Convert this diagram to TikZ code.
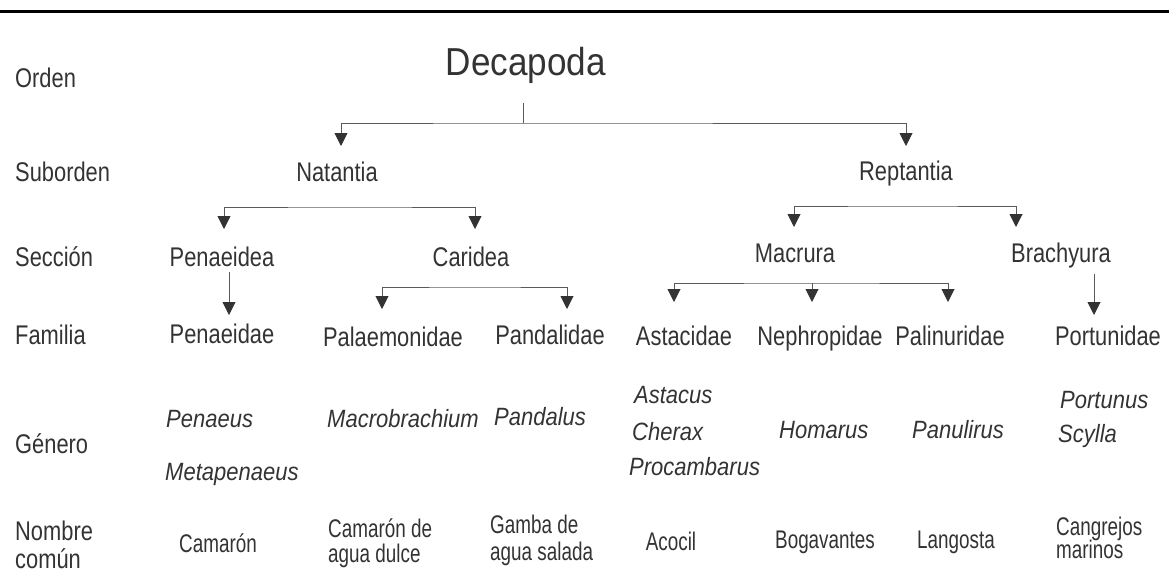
\documentclass[tikz,border=0pt]{standalone}
\usepackage{fontspec}
\setmainfont{Liberation Sans}[FakeStretch=0.81]
\newfontfamily\cnfont{Liberation Sans}[FakeStretch=0.74]
\newfontfamily\genfont{Liberation Sans}[FakeStretch=0.88]
\newfontfamily\decafont{Liberation Sans}[FakeStretch=0.9]
\usetikzlibrary{arrows.meta}
\definecolor{tx}{HTML}{333333}
\definecolor{lnc}{HTML}{5A5A5A}
\definecolor{ah}{HTML}{333333}
\tikzset{
  txt/.style={inner sep=0pt, text=tx},
  rowlab/.style={txt, anchor=base west, font=\fontsize{27}{30}\selectfont},
  taxon/.style={txt, anchor=base, font=\fontsize{27}{30}\selectfont},
  genus/.style={txt, anchor=base west, font=\genfont\itshape\fontsize{25}{28}\selectfont},
  common/.style={txt, anchor=base, font=\cnfont\fontsize{25.5}{28}\selectfont},
  commonl/.style={common, anchor=base west},
  conn/.style={draw=lnc, line width=0.9pt},
  arr/.style={conn, -{Triangle[width=13pt,length=13pt,color=ah]}},
  arrb/.style={conn, {Triangle[width=13pt,length=13pt,color=ah]}-{Triangle[width=13pt,length=13pt,color=ah]}},
}
\begin{document}
\begin{tikzpicture}[x=1pt,y=-1pt]
\useasboundingbox (0,0) rectangle (1169,582);
\draw[line width=3pt,black] (0,11) -- (1169,11);

% row labels
\node[rowlab] (lOrd) at (15,87) {Orden};
\node[rowlab] (lSub) at (15,181) {Suborden};
\node[rowlab] (lSec) at (15,266) {Sección};
\node[rowlab] (lFam) at (15,344) {Familia};
\node[rowlab] (lGen) at (15,453) {Género};
\node[rowlab] (lNom1) at (15,540) {Nombre};
\node[rowlab] (lNom2) at (15,568) {común};

% taxa
\node[taxon, font=\decafont\fontsize{39}{44}\selectfont] (deca) at (526,75) {Decapoda};
\node[taxon] (nat) at (337,181) {Natantia};
\node[taxon] (rep) at (906,180) {Reptantia};
\node[taxon] (pen) at (222,266) {Penaeidea};
\node[taxon] (car) at (471,266) {Caridea};
\node[taxon] (mac) at (795,262) {Macrura};
\node[taxon] (bra) at (1061,262) {Brachyura};
\node[taxon] (fPen) at (222,343) {Penaeidae};
\node[taxon] (fPal) at (393,346) {Palaemonidae};
\node[taxon] (fPan) at (550,344) {Pandalidae};
\node[taxon] (fAst) at (684,345) {Astacidae};
\node[taxon] (fNep) at (820,345) {Nephropidae};
\node[taxon] (fPali) at (950,345) {Palinuridae};
\node[taxon] (fPor) at (1108,345) {Portunidae};

% genera
\node[genus] (gPen) at (166,427) {Penaeus};
\node[genus] (gMet) at (165,480) {Metapenaeus};
\node[genus] (gMac) at (327,427) {Macrobrachium};
\node[genus] (gPan) at (494,425) {Pandalus};
\node[genus] (gAst) at (634,403) {Astacus};
\node[genus] (gChe) at (632,440) {Cherax};
\node[genus] (gPro) at (629,475) {Procambarus};
\node[genus] (gHom) at (779,438) {Homarus};
\node[genus] (gPanu) at (912,438) {Panulirus};
\node[genus] (gPor) at (1060,408) {Portunus};
\node[genus] (gScy) at (1058,442) {Scylla};

% common names
\node[common] (cCam) at (218,552) {Camarón};
\node[commonl] (cCad1) at (328,537) {Camarón de};
\node[commonl] (cCad2) at (328,562) {agua dulce};
\node[commonl] (cGam1) at (490,533) {Gamba de};
\node[commonl] (cGam2) at (490,560) {agua salada};
\node[common] (cAco) at (671,550) {Acocil};
\node[common] (cBog) at (825,548) {Bogavantes};
\node[common] (cLan) at (956,548) {Langosta};
\node[commonl] (cCan1) at (1056,535) {Cangrejos};
\node[commonl] (cCan2) at (1056,558) {marinos};

% connector coordinates
\coordinate (stem) at (523,103);
\coordinate (bar0) at (523,123);
\coordinate (tNat) at (341,146);
\coordinate (tRep) at (906,146);
\coordinate (barNat) at (350,207);
\coordinate (tPen) at (224,229);
\coordinate (tCar) at (475,229);
\coordinate (barRep) at (900,206);
\coordinate (tMac) at (794,227);
\coordinate (tBra) at (1016,227);
\coordinate (sPen) at (229,272);
\coordinate (tfPen) at (229,315);
\coordinate (barCar) at (475,287);
\coordinate (tPal) at (382,309);
\coordinate (tPan) at (567,309);
\coordinate (barMac) at (812,283);
\coordinate (tAst) at (674,302);
\coordinate (tNep) at (812,302);
\coordinate (tPali) at (948,302);
\coordinate (sBra) at (1094,274);
\coordinate (tPor) at (1094,315);

\draw[conn] (stem) -- (bar0);
\draw[arrb] (tNat) |- (bar0) -| (tRep);
\draw[arrb] (tPen) |- (barNat) -| (tCar);
\draw[arrb] (tMac) |- (barRep) -| (tBra);
\draw[arr] (sPen) -- (tfPen);
\draw[arrb] (tPal) |- (barCar) -| (tPan);
\draw[arrb] (tAst) |- (barMac) -| (tPali);
\draw[arr] (barMac) -- (tNep);
\draw[arr] (sBra) -- (tPor);
\end{tikzpicture}
\end{document}
